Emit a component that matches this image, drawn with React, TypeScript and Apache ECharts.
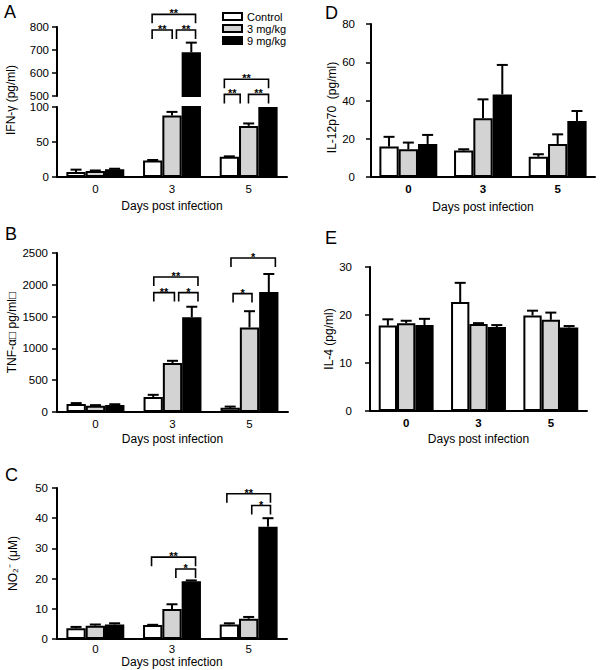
import React, { useEffect, useRef } from "react";
import * as echarts from "echarts";

const FONT = "'Liberation Sans', Arial, Helvetica, sans-serif";

const days = ["0", "3", "5"];
const groups = ["Control", "3 mg/kg", "9 mg/kg"];
const barColors = ["#ffffff", "#d3d3d3", "#000000"];

// A: IFN-gamma (pg/ml), broken axis
const ifnControl = [7, 23.5, 29];
const ifnControlErr = [3.5, 0.8, 0.5];
const ifn3 = [8.7, 88, 73];
const ifn3Err = [0.6, 5, 3.5];
const ifn9 = [11, 690, 100];
const ifn9Err = [0.8, 42, 0];
const ifnLowTicks = [0, 100, 50];
const ifnHighTicks = [500, 800, 100];
// brackets: [day index, from bar, to bar, y value (upper axis)]
const ifnBrackets = [
  [1, -0.03, 2.22, 855],
  [1, -0.03, 1.01, 787],
  [1, 1.23, 2.22, 787],
  [2, -0.26, 2.03, 573],
  [2, -0.26, 0.56, 507],
  [2, 0.99, 2.03, 507],
];
const ifnStars = ["**", "**", "**", "**", "**", "**"];

// B: TNF-alpha
const tnfControl = [125, 235, 65];
const tnfControlErr = [15, 35, 20];
const tnf3 = [100, 770, 1330];
const tnf3Err = [8, 35, 255];
const tnf9 = [110, 1490, 1885];
const tnf9Err = [12, 165, 285];
const tnfTicks = [0, 2500, 500];
const tnfBrackets = [
  [1, 0.03, 2.32, 2123],
  [1, 0.03, 1.1, 1877],
  [1, 1.32, 2.32, 1877],
  [2, 0.04, 2.34, 2421],
  [2, 0.15, 1.13, 1862],
];
const tnfStars = ["**", "**", "*", "*", "*"];

// C: NO2-
const no2Control = [3.6, 4.6, 4.8];
const no2ControlErr = [0.4, 0.1, 0.4];
const no23 = [4.4, 9.9, 6.7];
const no23Err = [0.4, 1.6, 0.6];
const no29 = [4.8, 19.1, 37.2];
const no29Err = [0.4, 0.3, 2.8];
const no2Ticks = [0, 50, 10];
const no2Brackets = [
  [1, -0.06, 2.22, 27.1],
  [1, 1.2, 2.22, 23.2],
  [2, -0.13, 2.13, 48.1],
  [2, 1.16, 2.13, 44.2],
];
const no2Stars = ["**", "*", "**", "*"];

// D: IL-12p70
const il12Control = [15.9, 13.8, 10.6];
const il12ControlErr = [5.1, 0.7, 1.3];
const il123 = [14.5, 30.7, 17.3];
const il123Err = [3.5, 9.9, 5];
const il129 = [17.3, 43.2, 29.3];
const il129Err = [4.7, 15.4, 5.2];
const il12Ticks = [0, 80, 20];

// E: IL-4
const il4Control = [17.8, 22.7, 19.9];
const il4ControlErr = [1.3, 4, 1];
const il43 = [18.3, 18.1, 19.0];
const il43Err = [0.5, 0.2, 1.5];
const il49 = [17.9, 17.5, 17.4];
const il49Err = [1.3, 0.4, 0.3];
const il4Ticks = [0, 30, 10];

type Grid = { left: number; top: number; width: number; height: number };

function barSeries(means: (number | string)[][], xi: number, yi: number, bw: number) {
  return means.map((data, s) => ({
    type: "bar",
    name: groups[s],
    data,
    xAxisIndex: xi,
    yAxisIndex: yi,
    barWidth: bw,
    barGap: "0%",
    clip: true,
    silent: true,
    itemStyle: { color: barColors[s], borderColor: "#000", borderWidth: 2 },
  }));
}

function errSeries(
  means: number[][],
  errs: number[][],
  xi: number,
  yi: number,
  bw: number,
  keep: (m: number, e: number) => boolean
) {
  const data: number[][] = [];
  means.forEach((arr, s) =>
    arr.forEach((m, c) => {
      if (errs[s][c] > 0 && keep(m, errs[s][c])) data.push([c, m, errs[s][c], s]);
    })
  );
  return {
    type: "custom",
    xAxisIndex: xi,
    yAxisIndex: yi,
    silent: true,
    z: 4,
    data,
    encode: { x: 0, y: 1 },
    renderItem: (params: any, api: any) => {
      const c = api.value(0);
      const m = api.value(1);
      const e = api.value(2);
      const s = api.value(3);
      const p0 = api.coord([c, m]);
      const p1 = api.coord([c, m + e]);
      const x = p0[0] + (s - 1) * bw;
      const cap = 11;
      return {
        type: "group",
        children: [
          { type: "line", shape: { x1: x, y1: p0[1], x2: x, y2: p1[1] }, style: { stroke: "#000", lineWidth: 2 } },
          { type: "line", shape: { x1: x - cap / 2, y1: p1[1], x2: x + cap / 2, y2: p1[1] }, style: { stroke: "#000", lineWidth: 2 } },
        ],
      };
    },
  };
}

function bracketSeries(items: number[][], stars: string[], xi: number, yi: number, bw: number) {
  return {
    type: "custom",
    xAxisIndex: xi,
    yAxisIndex: yi,
    silent: true,
    z: 5,
    clip: false,
    data: items,
    encode: { x: 0, y: 3 },
    renderItem: (params: any, api: any) => {
      const c = api.value(0);
      const a = api.value(1);
      const b = api.value(2);
      const v = api.value(3);
      const p = api.coord([c, v]);
      const x1 = p[0] + (a - 1) * bw;
      const x2 = p[0] + (b - 1) * bw;
      const y = p[1];
      const leg = 9;
      return {
        type: "group",
        children: [
          {
            type: "polyline",
            shape: { points: [[x1, y + leg], [x1, y], [x2, y], [x2, y + leg]] },
            style: { stroke: "#000", lineWidth: 1.6, fill: null },
          },
          {
            type: "text",
            x: (x1 + x2) / 2,
            y: y - 1,
            style: {
              text: stars[params.dataIndex],
              fill: "#000",
              fontSize: 11,
              fontWeight: "bold",
              fontFamily: FONT,
              align: "center",
              verticalAlign: "middle",
            },
          },
        ],
      };
    },
  };
}

function xAxis(gridIndex: number, opts: { show?: boolean; bold?: boolean; nameGap?: number; margin?: number }) {
  const show = opts.show !== false;
  return {
    type: "category",
    gridIndex,
    data: days,
    show,
    axisLine: { show, lineStyle: { color: "#000", width: 2 } },
    axisTick: { show: false },
    axisLabel: {
      show,
      color: "#000",
      fontSize: 11.5,
      fontWeight: opts.bold ? "bold" : "normal",
      margin: opts.margin ?? 6,
    },
    name: show ? "Days post infection" : "",
    nameLocation: "middle",
    nameGap: opts.nameGap ?? 22,
    nameTextStyle: { color: "#000", fontSize: 12, fontFamily: FONT },
  };
}

function yAxis(gridIndex: number, ticks: number[], opts: { name?: string; nameGap?: number; margin?: number; namePadding?: number[] }) {
  return {
    type: "value",
    gridIndex,
    min: ticks[0],
    max: ticks[1],
    interval: ticks[2],
    axisLine: { show: true, lineStyle: { color: "#000", width: 2 } },
    axisTick: { show: true, length: 5, lineStyle: { color: "#000", width: 1.5 } },
    splitLine: { show: false },
    axisLabel: { color: "#000", fontSize: 11.5, margin: opts.margin ?? 8, formatter: (v: number) => String(v) },
    name: opts.name ?? "",
    nameLocation: "middle",
    nameGap: opts.nameGap ?? 40,
    nameRotate: 90,
    nameTextStyle: { color: "#000", fontSize: 12, fontFamily: FONT, padding: opts.namePadding ?? 0 },
  };
}

export default function App() {
  const ref = useRef<HTMLDivElement>(null);

  useEffect(() => {
    if (!ref.current) return;
    const chart = echarts.init(ref.current, undefined, { renderer: "svg" });

    const grids: Grid[] = [
      { left: 57, top: 27, width: 230, height: 69 }, // 0 A upper
      { left: 57, top: 107, width: 230, height: 70 }, // 1 A lower
      { left: 57, top: 253, width: 231, height: 159 }, // 2 B
      { left: 57, top: 488, width: 230, height: 151 }, // 3 C
      { left: 371, top: 24, width: 224, height: 153 }, // 4 D
      { left: 370, top: 267, width: 217, height: 144 }, // 5 E
    ];

    const bwA = 19.3;
    const bwD = 19.3;
    const bwE = 18.3;

    const ifnMeans = [ifnControl, ifn3, ifn9];
    const ifnErrs = [ifnControlErr, ifn3Err, ifn9Err];
    const ifnHighMeans = ifnMeans.map((arr) => arr.map((v) => (v >= ifnHighTicks[0] ? v : "-")));

    const tnfMeans = [tnfControl, tnf3, tnf9];
    const tnfErrs = [tnfControlErr, tnf3Err, tnf9Err];
    const no2Means = [no2Control, no23, no29];
    const no2Errs = [no2ControlErr, no23Err, no29Err];
    const il12Means = [il12Control, il123, il129];
    const il12Errs = [il12ControlErr, il123Err, il129Err];
    const il4Means = [il4Control, il43, il49];
    const il4Errs = [il4ControlErr, il43Err, il49Err];

    const all = () => true;

    const option: any = {
      animation: false,
      backgroundColor: "#ffffff",
      textStyle: { fontFamily: FONT, color: "#000" },
      grid: grids.map((g) => ({ ...g, containLabel: false, outerBoundsMode: "none" })),
      legend: {
        data: groups,
        orient: "vertical",
        left: 217,
        top: 6,
        itemWidth: 19,
        itemHeight: 7,
        itemGap: 1,
        icon: "rect",
        selectedMode: false,
        textStyle: { fontSize: 11, color: "#000", fontFamily: FONT, lineHeight: 11 },
      },
      xAxis: [
        xAxis(0, { show: false }),
        xAxis(1, { nameGap: 23 }),
        xAxis(2, { nameGap: 21 }),
        xAxis(3, { nameGap: 17, margin: 4 }),
        xAxis(4, { bold: true, nameGap: 24 }),
        xAxis(5, { bold: true, nameGap: 22 }),
      ],
      yAxis: [
        yAxis(0, ifnHighTicks, {}),
        yAxis(1, ifnLowTicks, {}),
        yAxis(2, tnfTicks, { name: "TNF-α\u25A1 pg/ml\u25A1", nameGap: 39, margin: 9 }),
        yAxis(3, no2Ticks, { name: "NO\u2082\u207B (μM)", nameGap: 38, margin: 9 }),
        yAxis(4, il12Ticks, { name: "IL-12p70  (pg/ml)", nameGap: 33, margin: 16, namePadding: [0, 14, 0, 0] }),
        yAxis(5, il4Ticks, { name: "IL-4 (pg/ml)", nameGap: 31, margin: 18 }),
      ],
      graphic: [
        { type: "text", x: 4, y: 12, style: { text: "A", fontSize: 18, fontFamily: FONT, fill: "#000", verticalAlign: "middle" } },
        { type: "text", x: 5, y: 234, style: { text: "B", fontSize: 18, fontFamily: FONT, fill: "#000", verticalAlign: "middle" } },
        { type: "text", x: 5, y: 475, style: { text: "C", fontSize: 18, fontFamily: FONT, fill: "#000", verticalAlign: "middle" } },
        { type: "text", x: 325, y: 12.5, style: { text: "D", fontSize: 18, fontFamily: FONT, fill: "#000", verticalAlign: "middle" } },
        { type: "text", x: 325, y: 238, style: { text: "E", fontSize: 18, fontFamily: FONT, fill: "#000", verticalAlign: "middle" } },
        {
          type: "text",
          x: 11,
          y: 100,
          rotation: Math.PI / 2,
          style: { text: "IFN-γ (pg/ml)", fontSize: 12, fontFamily: FONT, fill: "#000", align: "center", verticalAlign: "middle" },
        },
      ],
      series: [
        ...barSeries(ifnHighMeans, 0, 0, bwA),
        ...barSeries(ifnMeans, 1, 1, bwA),
        errSeries(ifnMeans, ifnErrs, 0, 0, bwA, (m) => m >= ifnHighTicks[0]),
        errSeries(ifnMeans, ifnErrs, 1, 1, bwA, (m, e) => m + e <= ifnLowTicks[1]),
        bracketSeries(ifnBrackets, ifnStars, 0, 0, bwA),

        ...barSeries(tnfMeans, 2, 2, bwA),
        errSeries(tnfMeans, tnfErrs, 2, 2, bwA, all),
        bracketSeries(tnfBrackets, tnfStars, 2, 2, bwA),

        ...barSeries(no2Means, 3, 3, bwA),
        errSeries(no2Means, no2Errs, 3, 3, bwA, all),
        bracketSeries(no2Brackets, no2Stars, 3, 3, bwA),

        ...barSeries(il12Means, 4, 4, bwD),
        errSeries(il12Means, il12Errs, 4, 4, bwD, all),

        ...barSeries(il4Means, 5, 5, bwE),
        errSeries(il4Means, il4Errs, 5, 5, bwE, all),
      ],
    };

    chart.setOption(option);
    return () => chart.dispose();
  }, []);

  return (
    <div
      ref={ref}
      style={{ position: "fixed", left: 0, top: 0, width: 600, height: 670, background: "#fff" }}
    />
  );
}
